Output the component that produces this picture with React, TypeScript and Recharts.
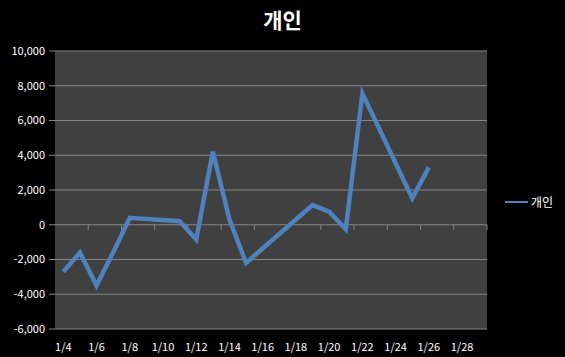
import React from 'react';
import { LineChart, Line, XAxis, YAxis, CartesianGrid, ReferenceLine } from 'recharts';

const days = [4, 5, 6, 7, 8, 11, 12, 13, 14, 15, 18, 19, 20, 21, 22, 25, 26];
const values = [-2700, -1600, -3500, -1600, 400, 200, -850, 4200, 300, -2200, 300, 1130, 750, -260, 7560, 1520, 3300];
const xTicks = [4, 6, 8, 10, 12, 14, 16, 18, 20, 22, 24, 26, 28];
const xTickMarks = [5.5, 7.5, 9.5, 11.5, 13.5, 15.5, 17.5, 19.5, 21.5, 23.5, 25.5, 27.5, 29.5];
const yTicks = [-6000, -4000, -2000, 0, 2000, 4000, 6000, 8000, 10000];
const seriesName = '개인';
const title = '개인';

const data = days.map((d, i) => ({ day: d, v: values[i] }));

const font = '"Noto Sans CJK KR", "Noto Sans", sans-serif';

export default function App() {
  return (
    <div style={{ position: 'fixed', left: 0, top: 0, width: 565, height: 357, background: '#000000' }}>
      <div style={{ position: 'absolute', left: 0, top: 3, width: 565, textAlign: 'center', fontFamily: font, fontWeight: 700, fontSize: 21, color: '#ffffff', lineHeight: '32px' }}>
        {title}
      </div>
      <div style={{ position: 'absolute', left: 505, top: 193, display: 'flex', alignItems: 'center', fontFamily: font, fontSize: 12, color: '#ffffff', lineHeight: '17px' }}>
        <div style={{ width: 23, height: 2, background: '#4f81bd', marginRight: 3 }} />
        <span>{seriesName}</span>
      </div>
      <LineChart width={565} height={357} data={data} margin={{ top: 51, right: 78, bottom: 0, left: 0 }}>
        <CartesianGrid vertical={false} stroke="#858585" strokeWidth={1.2} fill="#404040" />
        <XAxis
          dataKey="day"
          type="number"
          domain={[3.5, 29.5]}
          ticks={xTicks}
          tickFormatter={(d: number) => `1/${d}`}
          axisLine={false}
          tickLine={false}
          tickSize={0}
          tickMargin={14}
          tick={{ fill: '#ffffff', fontSize: 11, fontFamily: font }}
          interval={0}
          height={28}
          allowDataOverflow
        />
        <YAxis
          type="number"
          domain={[-6000, 10000]}
          ticks={yTicks}
          width={55}
          axisLine={false}
          tickLine={{ stroke: '#858585' }}
          tickSize={6}
          tickMargin={4}
          tickFormatter={(v: number) => v.toLocaleString('en-US')}
          tick={{ fill: '#ffffff', fontSize: 11, fontFamily: font }}
        />
        {xTickMarks.map((x) => (
          <ReferenceLine key={x} segment={[{ x, y: 0 }, { x, y: -300 }]} stroke="#858585" strokeWidth={1} />
        ))}
        <Line
          type="linear"
          dataKey="v"
          name={seriesName}
          stroke="#4f81bd"
          strokeWidth={4.5}
          dot={false}
          activeDot={false}
          isAnimationActive={false}
        />
      </LineChart>
    </div>
  );
}
